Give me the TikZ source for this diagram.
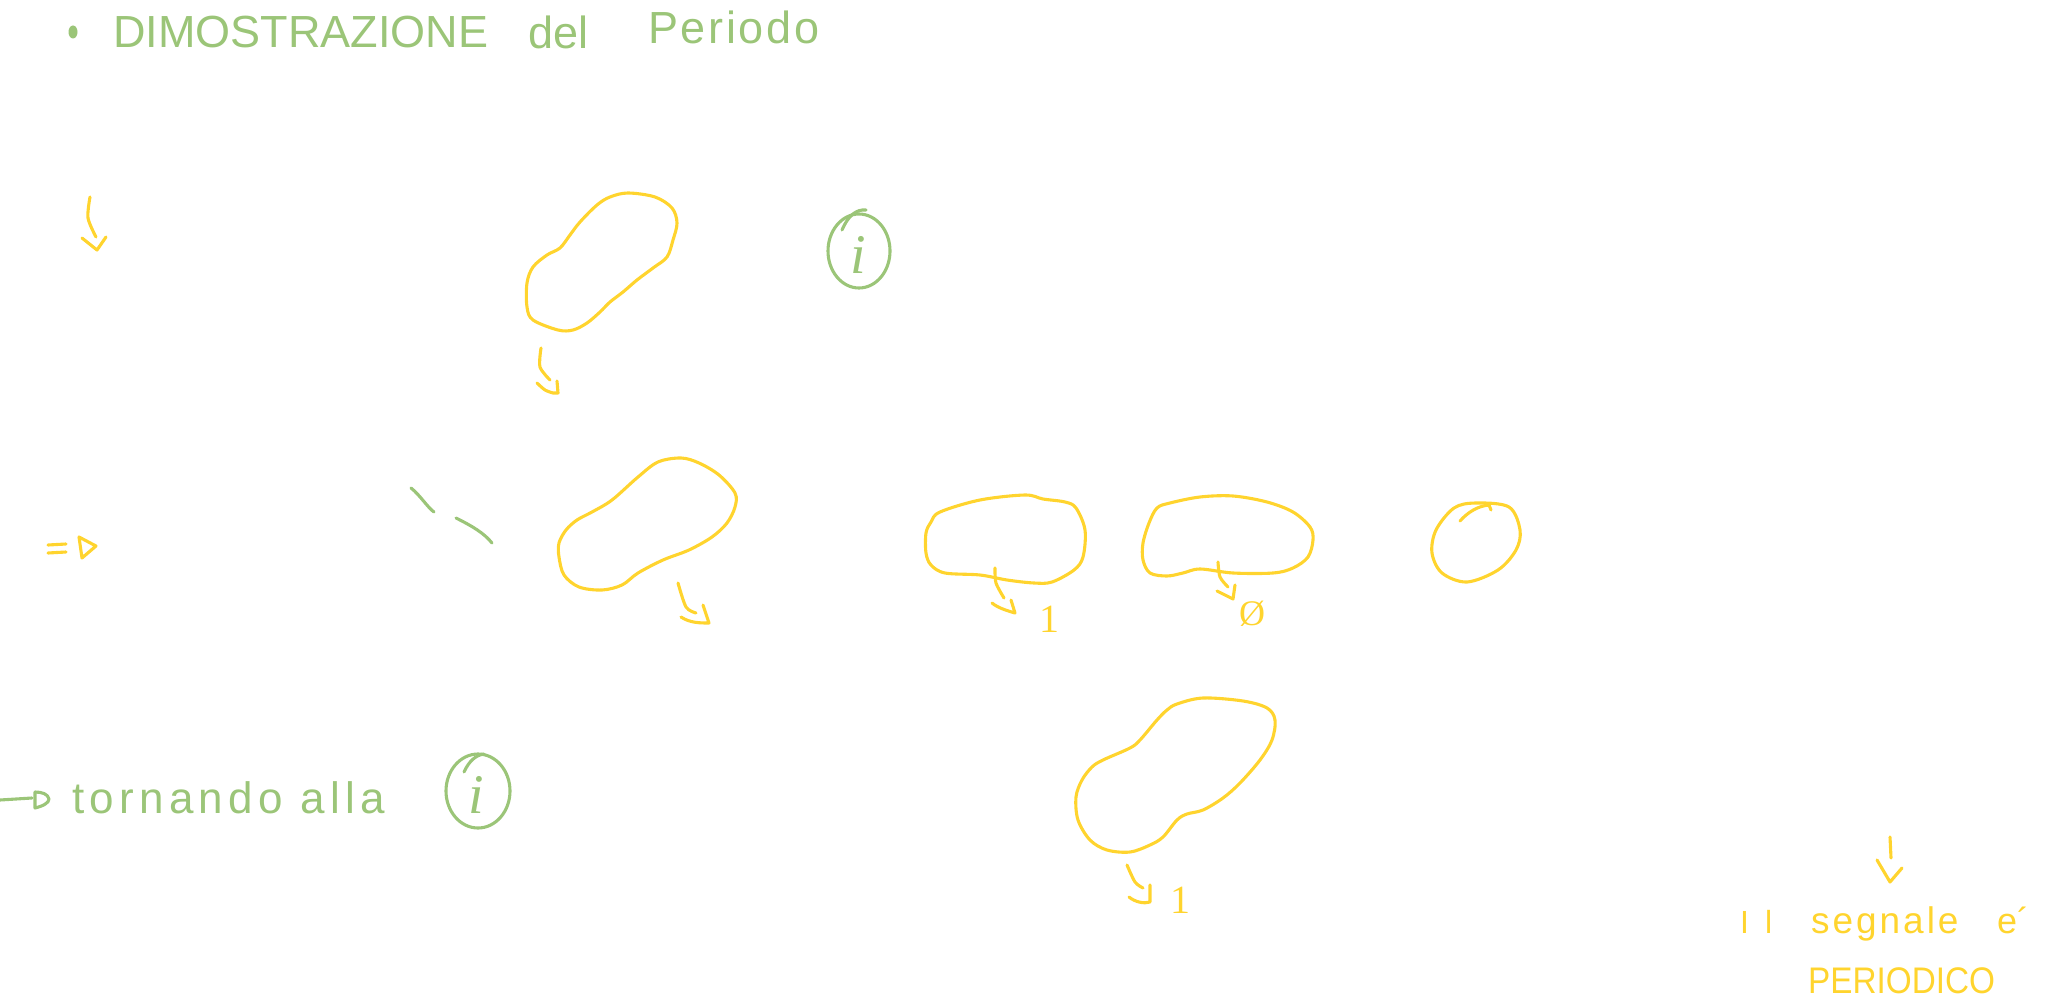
\documentclass[tikz,border=0pt]{standalone}
\usepackage{fontspec}
\setmainfont{Liberation Sans}
\newfontfamily\digfont{Liberation Serif}
\definecolor{hgreen}{RGB}{155,197,120}
\definecolor{hyellow}{RGB}{255,212,46}
\tikzset{
  yl/.style={draw=hyellow, line width=3.1pt, line cap=round, line join=round},
  gl/.style={draw=hgreen, line width=3.1pt, line cap=round, line join=round},
  gtext/.style={text=hgreen, inner sep=0pt, anchor=base west},
  ytext/.style={text=hyellow, inner sep=0pt, anchor=base west},
  blob/.style={yl, smooth cycle, tension=0.55},
}
\begin{document}
\begin{tikzpicture}[x=1pt,y=-1pt]
\useasboundingbox (0,0) rectangle (2047,1000);

% title
\fill[hgreen] (73,32) ellipse [x radius=4.5, y radius=6.5];
\node[gtext] (t1) at (113,48) {\fontsize{45}{54}\selectfont DIMOSTRAZIONE};
\node[gtext] (t2) at (528,49) {\fontsize{45}{54}\selectfont del};
\node[gtext] (t3) at (648,44) {\fontsize{45}{54}\selectfont\addfontfeature{LetterSpace=6}Periodo};

% top-left arrow
\draw[yl] plot[smooth] coordinates {(90,197) (88,218) (96,237)};
\draw[yl] (82,238) -- (97,250) -- (106,237);

% blob 1
\draw[blob] plot coordinates {(628,193) (655,197) (672,208) (677,223) (673,240) (667,257) (653,268) (637,280) (623,292) (610,302) (600,312) (587,323) (573,330) (558,330) (533,320) (527,307) (527,283) (533,267) (547,255) (560,248) (570,235) (580,222) (597,205) (610,197)};
\draw[yl] plot[smooth] coordinates {(541,348) (540,367) (550,380)};
\draw[yl] plot[smooth] coordinates {(537,383) (545,390) (553,393)} -- (558,393) -- (557,381);

% i circle 1
\draw[gl] (859,251) ellipse [x radius=31, y radius=37];
\draw[gl] (842,230) .. controls (848,216) and (856,209) .. (866,210);
\node[text=hgreen, inner sep=0pt, anchor=base] (i1) at (858,274) {\fontsize{56}{60}\selectfont\digfont\itshape i};

% => sign
\draw[yl] (48,545) -- (66,544);
\draw[yl] (48,553) -- (66,552);
\draw[yl] (79,537) -- (82,558) -- (96,546) -- cycle;

% green dashes
\draw[gl] (411,488) .. controls (420,495) and (428,508) .. (434,512);
\draw[gl] (456,518) .. controls (472,526) and (484,533) .. (492,543);

% blob 2
\draw[blob] plot coordinates {(658,462) (681,458) (699,463) (719,475) (735,493) (735,507) (727,523) (712,537) (689,550) (663,560) (638,573) (622,585) (602,590) (579,587) (564,575) (559,557) (559,543) (566,530) (577,520) (592,512) (612,500) (638,477)};
\draw[yl] plot[smooth] coordinates {(678,583) (686,607) (696,613)};
\draw[yl] (681,617) .. controls (690,623) and (700,623) .. (709,623) -- (703,605);

% blob 3
\draw[blob] plot coordinates {(940,512) (980,500) (1025,495) (1043,499) (1065,502) (1076,508) (1085,530) (1083,557) (1074,570) (1052,582) (1034,583) (1007,580) (980,575) (945,573) (931,565) (926,553) (926,533) (931,522)};
\draw[yl] plot[smooth] coordinates {(995,568) (996,583) (1004,598)};
\draw[yl] (992,603) .. controls (998,608) and (1008,611) .. (1015,613) -- (1011,600);
\node[text=hyellow, inner sep=0pt, anchor=base] (n1) at (1049,632) {\fontsize{40}{44}\selectfont\digfont 1};

% blob 4
\draw[blob] plot coordinates {(1157,508) (1170,503) (1200,497) (1233,496) (1267,502) (1293,512) (1310,527) (1313,540) (1308,557) (1293,568) (1273,573) (1233,573) (1200,569) (1183,573) (1167,576) (1150,573) (1143,560) (1143,543) (1149,523)};
\draw[yl] plot[smooth] coordinates {(1218,562) (1220,577) (1228,587)};
\draw[yl] (1217,591) -- (1233,599) -- (1235,585);
\node[text=hyellow, inner sep=0pt, anchor=base] (n0) at (1252,625) {\fontsize{36}{42}\selectfont\digfont Ø};

% blob 5
\draw[blob] plot coordinates {(1476,503) (1509,507) (1520,530) (1516,550) (1498,570) (1467,582) (1442,573) (1432,553) (1436,530) (1454,508)};
\draw[yl] (1460,521) .. controls (1468,512) and (1478,506) .. (1489,505) -- (1491,510);

% bottom line text
\draw[gl] (0,800) -- (32,798);
\draw[gl] (35,792) -- (35,808) .. controls (43,806) and (49,803) .. (49,799) .. controls (48,794) and (42,792) .. (35,792);
\node[gtext] (t4) at (72,813) {\fontsize{44}{50}\selectfont\addfontfeature{LetterSpace=12}tornando alla};

% i circle 2
\draw[gl] (478,791) ellipse [x radius=32, y radius=37];
\draw[gl] (464,772) .. controls (469,761) and (476,755) .. (484,754);
\node[text=hgreen, inner sep=0pt, anchor=base] (i2) at (476,813) {\fontsize{56}{60}\selectfont\digfont\itshape i};

% blob 6
\draw[blob] plot coordinates {(1177,704) (1203,698) (1243,701) (1267,708) (1275,720) (1272,740) (1260,760) (1240,783) (1223,798) (1203,810) (1187,814) (1177,820) (1163,837) (1150,845) (1130,852) (1107,850) (1090,840) (1078,820) (1076,797) (1082,780) (1092,767) (1103,760) (1130,748) (1140,740) (1157,720) (1167,710)};
\draw[yl] plot[smooth] coordinates {(1127,865) (1135,882) (1143,888)};
\draw[yl] (1129,897) .. controls (1135,902) and (1144,904) .. (1150,902) -- (1150,885);
\node[text=hyellow, inner sep=0pt, anchor=base] (n2) at (1180,913) {\fontsize{40}{44}\selectfont\digfont 1};

% right conclusion
\draw[yl] (1890,837) -- (1891,858);
\draw[yl] (1877,860) -- (1890,882) -- (1902,868);
\node[ytext] (r1) at (1740,933) {\fontsize{32}{36}\selectfont\addfontfeature{LetterSpace=50}Il};
\node[ytext] (r2) at (1811,933) {\fontsize{37}{44}\selectfont\addfontfeature{LetterSpace=8}segnale};
\node[ytext] (r3) at (1997,933) {\fontsize{36}{44}\selectfont e´};
\node[ytext] (r4) at (1808,993) {\scalebox{0.9}[1]{\fontsize{37}{44}\selectfont PERIODICO}};
\end{tikzpicture}
\end{document}
